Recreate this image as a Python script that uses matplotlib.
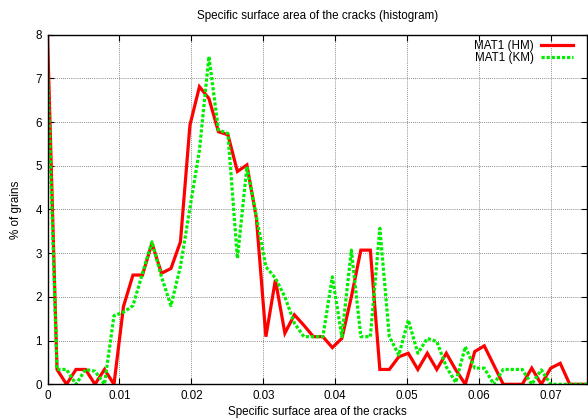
import numpy as np
import matplotlib
matplotlib.use('Agg')
import matplotlib.pyplot as plt

# histogram bins (specific surface area), step ~0.00132
step = 0.00132
n_bins = 58

hm = [8.0, 0.34, 0.0, 0.34, 0.34, 0.0, 0.34, 0.0, 1.78, 2.5,
      2.5, 3.23, 2.54, 2.65, 3.26, 5.93, 6.81, 6.54, 5.78, 5.71,
      4.87, 5.02, 3.8, 1.09, 2.39, 1.17, 1.59, 1.35, 1.09, 1.09,
      0.84, 1.05, 2.0, 3.07, 3.07, 0.34, 0.34, 0.63, 0.71, 0.34,
      0.71, 0.34, 0.71, 0.33, 0.0, 0.75, 0.88, 0.44, 0.0, 0.0,
      0.0, 0.37, 0.0, 0.37, 0.48, 0.0, 0.0, 0.0]

km = [7.23, 0.34, 0.34, 0.0, 0.34, 0.3, 0.0, 1.57, 1.65, 1.8,
      2.54, 3.26, 2.46, 1.8, 2.7, 4.03, 5.36, 7.5, 5.82, 5.74,
      2.88, 4.98, 3.84, 2.69, 2.43, 2.0, 1.4, 1.09, 1.09, 1.09,
      2.46, 1.09, 3.07, 1.09, 1.09, 3.57, 1.09, 0.67, 1.47, 0.71,
      1.05, 0.98, 0.4, 0.04, 0.86, 0.37, 0.37, 0.0, 0.34, 0.34,
      0.34, 0.0, 0.33, 0.0, 0.0, 0.0, 0.0, 0.0]

x = np.arange(n_bins) * step

plt.rcParams['font.family'] = ['Liberation Sans', 'DejaVu Sans']
plt.rcParams['font.size'] = 8.4

fig = plt.figure(figsize=(5.88, 4.19), dpi=100)
ax = fig.add_axes([0.0808, 0.0828, 0.9175, 0.8344])

ax.plot(x, hm, color='#ff0000', lw=2.3, label='MAT1 (HM)', solid_joinstyle='miter')
ax.plot(x, km, color='#00ee00', lw=2.3, ls=(0, (1, 0.6)), label='MAT1 (KM)')

ax.set_xlim(0, 0.075)
ax.set_ylim(0, 8)
ax.set_xticks(np.arange(0, 0.0701, 0.01))
ax.set_xticklabels(['0', '0.01', '0.02', '0.03', '0.04', '0.05', '0.06', '0.07'])
ax.set_yticks(range(0, 9))
ax.tick_params(direction='in', top=True, right=True, length=4, width=0.8, pad=4)
ax.grid(True, color='#666666', ls=(0, (1, 1.5)), lw=0.6)
for s in ax.spines.values():
    s.set_linewidth(1.0)

ax.set_title('Specific surface area of the cracks (histogram)', fontsize=8.4, pad=11)
ax.set_xlabel('Specific surface area of the cracks', labelpad=3)
ax.set_ylabel('% of grains', labelpad=10)

leg = ax.legend(loc='upper right', bbox_to_anchor=(0.974, 0.984), markerfirst=False,
                frameon=False, handlelength=2.7, handletextpad=0.65, labelspacing=0.0,
                borderaxespad=0, borderpad=0)

fig.savefig('out.png', dpi=100)
